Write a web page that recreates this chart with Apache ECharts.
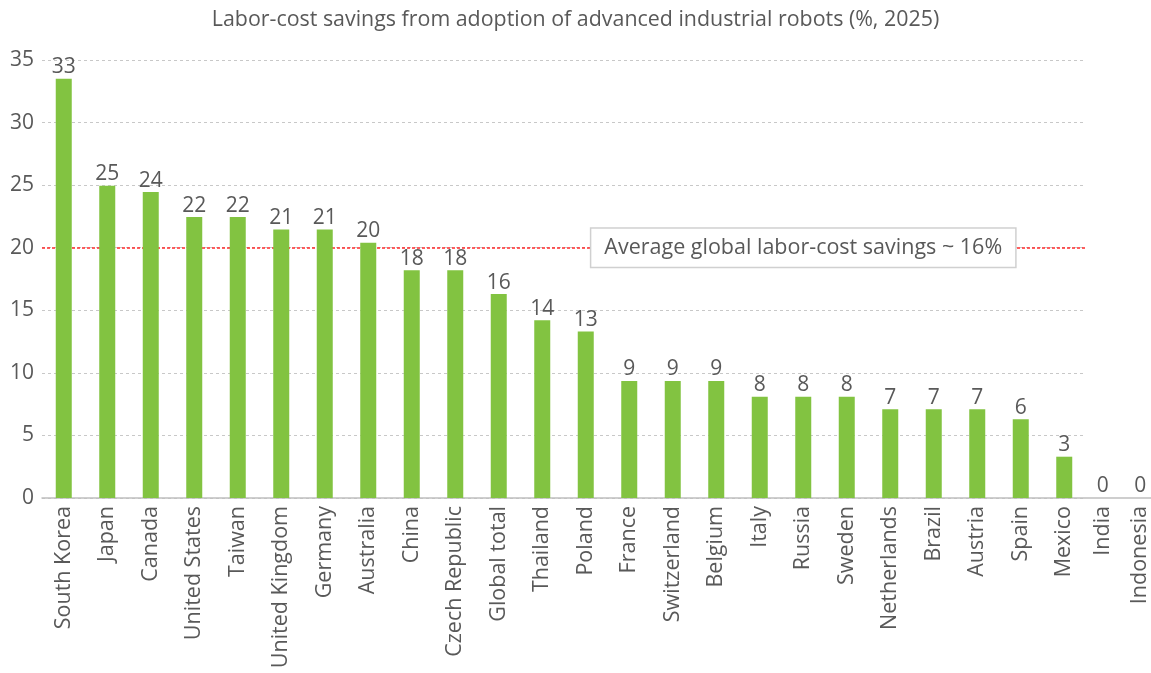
<!DOCTYPE html>
<html><head><meta charset="utf-8">
<script src="https://cdn.jsdelivr.net/npm/echarts@6/dist/echarts.min.js"></script>
<style>html,body{margin:0;padding:0;background:#fff}#c{width:1151px;height:673px}</style>
</head><body><div id="c"></div>
<script>
var categories = ["South Korea","Japan","Canada","United States","Taiwan","United Kingdom","Germany","Australia","China","Czech Republic","Global total","Thailand","Poland","France","Switzerland","Belgium","Italy","Russia","Sweden","Netherlands","Brazil","Austria","Spain","Mexico","India","Indonesia"];
var values = [33.5,24.95,24.45,22.45,22.45,21.45,21.45,20.4,18.2,18.2,16.3,14.2,13.3,9.35,9.35,9.35,8.1,8.1,8.1,7.1,7.1,7.1,6.3,3.3,0,0];
var valueLabels = ["33","25","24","22","22","21","21","20","18","18","16","14","13","9","9","9","8","8","8","7","7","7","6","3","0","0"];
var yTicks = [0,5,10,15,20,25,30,35];
var averageLineValue = 20;
var averageText = "Average global labor-cost savings ~ 16%";
var annotationCategory = "Russia";
var titleText = "Labor-cost savings from adoption of advanced industrial robots (%, 2025)";

// the last two labels sit squeezed toward the left at the chart's right edge
var edgeShift = {"India": 5, "Indonesia": 11};

var txt = '#595959';
var labelFont = {color:txt,fontFamily:'Open Sans',fontSize:21.5};
var rich = {};
Object.keys(edgeShift).forEach(function(k,i){
  rich['s'+i] = Object.assign({padding:[0,0,2*edgeShift[k],0]}, labelFont);
});
var shiftKeys = Object.keys(edgeShift);
var barData = values.map(function(v,i){
  var s = edgeShift[categories[i]];
  return s ? {value:v, label:{offset:[-s,0]}} : v;
});
var yMin = yTicks[0], yMax = yTicks[yTicks.length-1];
var chart = echarts.init(document.getElementById('c'), null, {renderer:'canvas'});
chart.setOption({
  animation:false,
  title:{text:titleText,left:'center',top:4,textStyle:{fontFamily:'Open Sans',fontWeight:'normal',fontSize:21.4,color:txt}},
  grid:[
    {left:42,width:1131,top:60,bottom:175,containLabel:false,outerBoundsMode:'none'},
    {left:42,right:66,top:60,bottom:175,containLabel:false,outerBoundsMode:'none'}
  ],
  xAxis:[
    {type:'category',data:categories,gridIndex:0,
      axisLine:{lineStyle:{color:'#bfbfbf',width:1.5}},axisTick:{show:false},
      axisLabel:Object.assign({rotate:90,interval:0,margin:8,rich:rich,
        formatter:function(v){var j=shiftKeys.indexOf(v);return j>=0?'{s'+j+'|'+v+'}':v;}},labelFont)},
    {type:'value',gridIndex:1,show:false,min:0,max:1}
  ],
  yAxis:[
    {type:'value',gridIndex:0,min:yMin,max:yMax,interval:5,show:false},
    {type:'value',gridIndex:1,min:yMin,max:yMax,interval:5,
      axisLine:{show:false},axisTick:{show:false},
      axisLabel:{color:txt,fontFamily:'Open Sans',fontSize:21,margin:8},
      splitLine:{lineStyle:{color:'#c8c8c8',type:[3,3],width:1}}}
  ],
  series:[
    {type:'bar',data:barData,barWidth:16,itemStyle:{color:'#82c341'},xAxisIndex:0,yAxisIndex:0,z:3,
      label:{show:true,position:'top',distance:1,color:txt,fontFamily:'Open Sans',fontSize:21,
        formatter:function(p){return valueLabels[p.dataIndex];}},
      markPoint:{silent:true,symbol:'rect',symbolSize:0,z:6,
        data:[{coord:[annotationCategory,averageLineValue]}],
        label:{show:true,position:'inside',formatter:averageText,color:txt,fontFamily:'Open Sans',fontSize:21.5,
          backgroundColor:'#fff',borderColor:'#d0d0d0',borderWidth:1.5,padding:[8,13,8,13]}}},
    {type:'line',data:[],xAxisIndex:1,yAxisIndex:1,z:1,
      markLine:{silent:true,symbol:'none',z:1,label:{show:false},
        lineStyle:{color:'#ff2b2b',type:[3,2],width:1.5},
        data:[{yAxis:averageLineValue}]}}
  ]
});
</script></body></html>
